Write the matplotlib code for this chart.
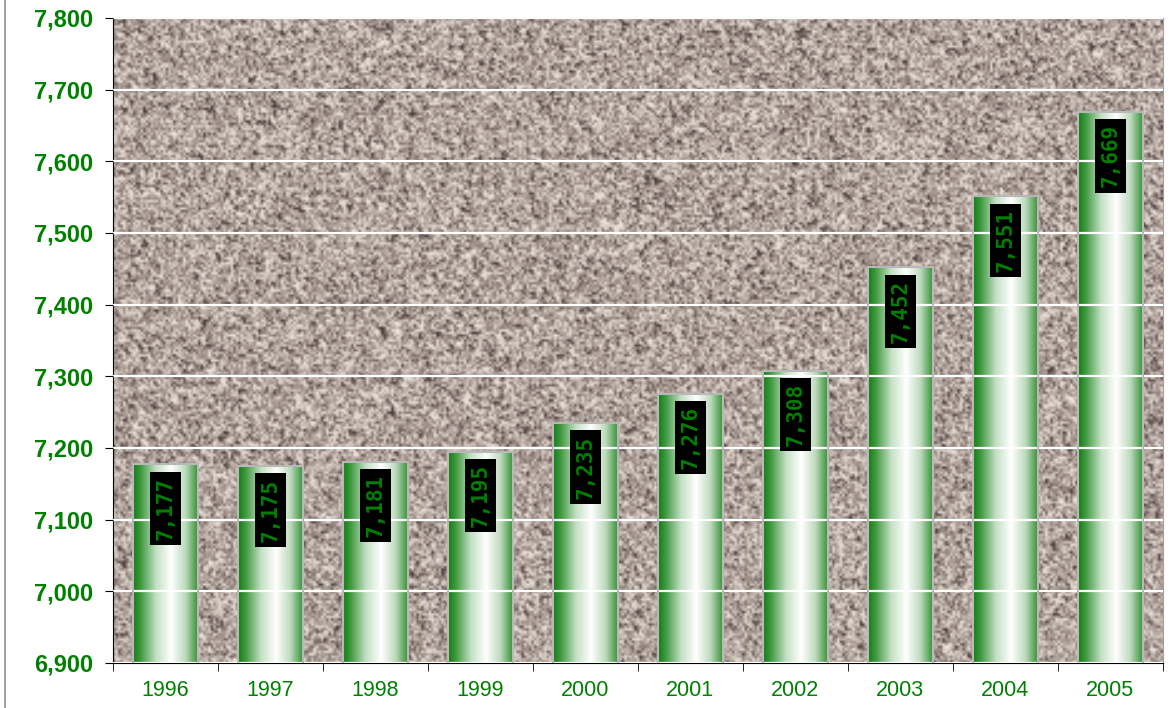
import numpy as np
import matplotlib
matplotlib.use("Agg")
import matplotlib.pyplot as plt
from matplotlib.colors import LinearSegmentedColormap
from matplotlib.ticker import FuncFormatter, MultipleLocator

plt.rcParams['font.family'] = ['Liberation Sans', 'DejaVu Sans']

# data
years = ['1996', '1997', '1998', '1999', '2000', '2001', '2002', '2003', '2004', '2005']
values = [7177, 7175, 7181, 7195, 7235, 7276, 7308, 7452, 7551, 7669]

green = '#008000'

fig = plt.figure(figsize=(11.73, 7.08), dpi=100)
ax = fig.add_axes([0.0963, 0.0636, 0.8951, 0.911])

# granite-like background texture (decoration only)
rng = np.random.default_rng(3)
noise = rng.random((260, 420))
smooth = (noise[:-1, :-1] + noise[1:, :-1] + noise[:-1, 1:] + noise[1:, 1:]) / 4
tex = 0.6 * noise[:-1, :-1] + 0.4 * smooth
granite = LinearSegmentedColormap.from_list(
    'granite', ['#4c3e3a', '#8e7f79', '#a99b94', '#bdb0a8', '#d9cfc6', '#f0e9e2'])
ax.imshow(tex, cmap=granite, extent=[0, 1, 0, 1], transform=ax.transAxes,
          aspect='auto', zorder=0, interpolation='bilinear', vmin=0.08, vmax=0.95)

ax.set_ylim(6900, 7800)
ax.set_xlim(-0.5, len(years) - 0.5)
ax.yaxis.set_major_locator(MultipleLocator(100))
ax.grid(axis='y', color='white', linewidth=1.6, zorder=1)
ax.set_axisbelow(False)

x = np.arange(len(years))
bars = ax.bar(x, values, width=0.62, bottom=0, color='none',
              edgecolor='#b8b8b8', linewidth=1.5, zorder=3)

grad_cmap = LinearSegmentedColormap.from_list(
    'bar', [(0.0, '#127d12'), (0.12, '#429a42'), (0.35, '#c4e0c4'),
            (0.58, '#ffffff'), (0.8, '#bcd9bc'), (1.0, '#2a8c2a')])
grad = np.linspace(0, 1, 256).reshape(1, -1)
for b in bars:
    im = ax.imshow(grad, cmap=grad_cmap, aspect='auto', zorder=2,
                   extent=[b.get_x(), b.get_x() + b.get_width(), 6900, b.get_height()])
    im.set_clip_path(b)

for xi, v in zip(x, values):
    ax.annotate(f'{v:,}', (xi, v), xytext=(0, -9), textcoords='offset points',
                rotation=90, ha='center', va='top', color=green,
                fontsize=15, fontweight='bold', family='DejaVu Sans Mono', zorder=5,
                bbox=dict(boxstyle='square,pad=0.25', fc='black', ec='none'))

ax.yaxis.set_major_formatter(FuncFormatter(lambda v, p: f'{int(v):,}'))
ax.set_xticks(x)
ax.set_xticklabels(years)
ax.set_xticks(np.arange(-0.5, len(years)), minor=True)
ax.tick_params(axis='x', which='major', length=0, pad=12, labelsize=15.5, labelcolor=green)
ax.tick_params(axis='x', which='minor', length=6, direction='out', color='black')
ax.tick_params(axis='y', length=6, direction='out', labelsize=17, labelcolor=green, pad=8)
for lab in ax.get_yticklabels():
    lab.set_fontweight('bold')

ax.spines['left'].set_color('black')
ax.spines['bottom'].set_color('black')
ax.spines['top'].set_color('#a0a0a0')
ax.spines['right'].set_color('#a0a0a0')

# thin outer frame line on the left
fig.add_artist(plt.Line2D([0.0045, 0.0045], [0, 1], color='#909090', linewidth=1.2,
                          transform=fig.transFigure))

fig.savefig('out.png', dpi=100)
